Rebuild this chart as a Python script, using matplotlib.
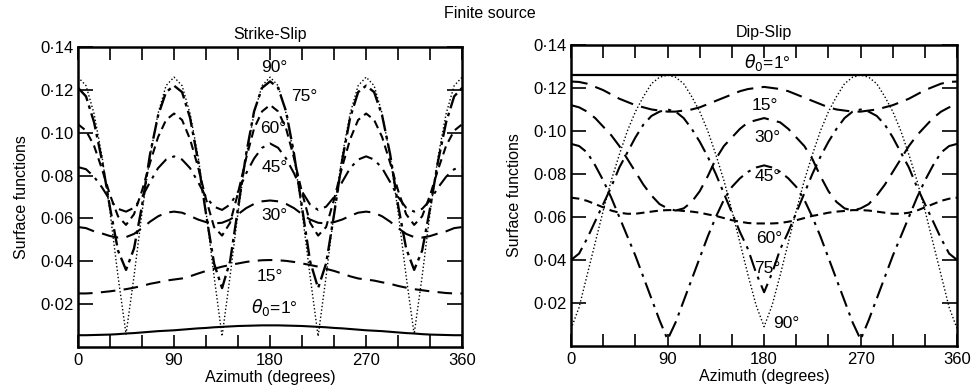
import matplotlib.pyplot as plt
import numpy as np

azimuth = np.arange(0, 360.1, 7.5)

# ---- Strike-Slip panel, one list per source depth angle theta0 ----
ss_1 = [0.0055, 0.0055, 0.0056, 0.0057, 0.0058, 0.0060, 0.0063, 0.0065, 0.0068, 0.0071, 0.0074, 0.0076, 0.0078,
        0.0081, 0.0084, 0.0087, 0.0089, 0.0092, 0.0094, 0.0096, 0.0098, 0.0099, 0.0100, 0.0101, 0.0101,
        0.0101, 0.0100, 0.0099, 0.0098, 0.0096, 0.0094, 0.0092, 0.0089, 0.0087, 0.0084, 0.0081, 0.0078,
        0.0076, 0.0074, 0.0071, 0.0068, 0.0065, 0.0063, 0.0060, 0.0058, 0.0057, 0.0056, 0.0055, 0.0055]
ss_15 = [0.0250, 0.0250, 0.0252, 0.0256, 0.0260, 0.0265, 0.0270, 0.0277, 0.0285, 0.0295, 0.0302, 0.0310, 0.0315,
         0.0320, 0.0330, 0.0343, 0.0355, 0.0365, 0.0375, 0.0383, 0.0390, 0.0397, 0.0402, 0.0405, 0.0406,
         0.0405, 0.0402, 0.0397, 0.0390, 0.0383, 0.0375, 0.0365, 0.0355, 0.0343, 0.0330, 0.0320, 0.0315,
         0.0310, 0.0302, 0.0295, 0.0285, 0.0277, 0.0270, 0.0265, 0.0260, 0.0256, 0.0252, 0.0250, 0.0250]
ss_30 = [0.0560, 0.0555, 0.0540, 0.0530, 0.0518, 0.0511, 0.0513, 0.0528, 0.0555, 0.0585, 0.0610, 0.0627, 0.0632,
         0.0627, 0.0612, 0.0595, 0.0583, 0.0577, 0.0580, 0.0595, 0.0620, 0.0648, 0.0668, 0.0680, 0.0684,
         0.0680, 0.0668, 0.0648, 0.0620, 0.0595, 0.0580, 0.0577, 0.0583, 0.0595, 0.0612, 0.0627, 0.0632,
         0.0627, 0.0610, 0.0585, 0.0555, 0.0528, 0.0513, 0.0511, 0.0518, 0.0530, 0.0540, 0.0555, 0.0560]
ss_45 = [0.0840, 0.0830, 0.0795, 0.0745, 0.0685, 0.0645, 0.0632, 0.0650, 0.0700, 0.0770, 0.0835, 0.0875, 0.0890,
         0.0875, 0.0835, 0.0770, 0.0700, 0.0655, 0.0640, 0.0665, 0.0725, 0.0810, 0.0880, 0.0930, 0.0950,
         0.0930, 0.0880, 0.0810, 0.0725, 0.0665, 0.0640, 0.0655, 0.0700, 0.0770, 0.0835, 0.0875, 0.0890,
         0.0875, 0.0835, 0.0770, 0.0700, 0.0650, 0.0632, 0.0645, 0.0685, 0.0745, 0.0795, 0.0830, 0.0840]
ss_60 = [0.104, 0.101, 0.094, 0.083, 0.071, 0.061, 0.057, 0.062, 0.073, 0.086, 0.098, 0.106, 0.109,
         0.106, 0.097, 0.084, 0.069, 0.056, 0.052, 0.058, 0.072, 0.088, 0.102, 0.110, 0.113,
         0.110, 0.102, 0.088, 0.072, 0.058, 0.052, 0.056, 0.069, 0.084, 0.097, 0.106, 0.109,
         0.106, 0.098, 0.086, 0.073, 0.062, 0.057, 0.061, 0.071, 0.083, 0.094, 0.101, 0.104]
ss_75 = [0.121, 0.117, 0.105, 0.087, 0.065, 0.045, 0.036, 0.046, 0.066, 0.090, 0.108, 0.119, 0.122,
         0.119, 0.107, 0.087, 0.062, 0.039, 0.0275, 0.040, 0.065, 0.090, 0.110, 0.121, 0.124,
         0.121, 0.110, 0.090, 0.065, 0.040, 0.0275, 0.039, 0.062, 0.087, 0.107, 0.119, 0.122,
         0.119, 0.108, 0.090, 0.066, 0.046, 0.036, 0.045, 0.065, 0.087, 0.105, 0.117, 0.121]
ss_90 = [0.126, 0.122, 0.109, 0.089, 0.063, 0.033, 0.006, 0.033, 0.063, 0.089, 0.109, 0.122, 0.126,
         0.122, 0.109, 0.089, 0.063, 0.033, 0.005, 0.033, 0.063, 0.089, 0.109, 0.122, 0.126,
         0.122, 0.109, 0.089, 0.063, 0.033, 0.005, 0.033, 0.063, 0.089, 0.109, 0.122, 0.126,
         0.122, 0.109, 0.089, 0.063, 0.033, 0.006, 0.033, 0.063, 0.089, 0.109, 0.122, 0.126]

# ---- Dip-Slip panel ----
ds_1_az = [0, 360]
ds_1 = [0.126, 0.126]
ds_15 = [0.1230, 0.1228, 0.1220, 0.1205, 0.1190, 0.1170, 0.1150, 0.1135, 0.1120, 0.1110, 0.1100, 0.1095, 0.1090,
         0.1090, 0.1095, 0.1100, 0.1110, 0.1125, 0.1140, 0.1155, 0.1170, 0.1185, 0.1195, 0.1200, 0.1205,
         0.1200, 0.1195, 0.1185, 0.1170, 0.1155, 0.1140, 0.1125, 0.1110, 0.1100, 0.1095, 0.1090, 0.1090,
         0.1095, 0.1100, 0.1110, 0.1120, 0.1135, 0.1150, 0.1170, 0.1190, 0.1205, 0.1220, 0.1228, 0.1230]
ds_30 = [0.112, 0.111, 0.109, 0.106, 0.102, 0.098, 0.093, 0.087, 0.081, 0.075, 0.070, 0.066, 0.064,
         0.063, 0.064, 0.067, 0.072, 0.079, 0.087, 0.093, 0.097, 0.101, 0.104, 0.105, 0.106,
         0.105, 0.104, 0.101, 0.097, 0.093, 0.087, 0.079, 0.072, 0.067, 0.064, 0.063, 0.064,
         0.066, 0.070, 0.075, 0.081, 0.087, 0.093, 0.098, 0.102, 0.106, 0.109, 0.111, 0.112]
ds_45 = [0.094, 0.093, 0.090, 0.084, 0.077, 0.069, 0.060, 0.051, 0.042, 0.032, 0.022, 0.012, 0.003,
         0.011, 0.021, 0.031, 0.041, 0.051, 0.060, 0.068, 0.074, 0.078, 0.081, 0.083, 0.084,
         0.083, 0.081, 0.078, 0.074, 0.068, 0.060, 0.051, 0.041, 0.031, 0.021, 0.011, 0.003,
         0.012, 0.022, 0.032, 0.042, 0.051, 0.060, 0.069, 0.077, 0.084, 0.090, 0.093, 0.094]
ds_60 = [0.0690, 0.0685, 0.0675, 0.0660, 0.0645, 0.0630, 0.0620, 0.0615, 0.0615, 0.0620, 0.0625, 0.0630, 0.0632,
         0.0632, 0.0628, 0.0625, 0.0620, 0.0612, 0.0605, 0.0595, 0.0585, 0.0578, 0.0572, 0.0570, 0.0570,
         0.0570, 0.0572, 0.0578, 0.0585, 0.0595, 0.0605, 0.0612, 0.0620, 0.0625, 0.0628, 0.0632, 0.0632,
         0.0630, 0.0625, 0.0620, 0.0615, 0.0615, 0.0620, 0.0630, 0.0645, 0.0660, 0.0675, 0.0685, 0.0690]
ds_75 = [0.040, 0.043, 0.050, 0.058, 0.066, 0.074, 0.083, 0.090, 0.097, 0.103, 0.107, 0.109, 0.110,
         0.109, 0.106, 0.101, 0.095, 0.088, 0.080, 0.071, 0.062, 0.053, 0.045, 0.034, 0.025,
         0.034, 0.045, 0.053, 0.062, 0.071, 0.080, 0.088, 0.095, 0.101, 0.106, 0.109, 0.110,
         0.109, 0.107, 0.103, 0.097, 0.090, 0.083, 0.074, 0.066, 0.058, 0.050, 0.043, 0.040]
ds_90 = [0.008, 0.018, 0.033, 0.048, 0.063, 0.077, 0.089, 0.100, 0.109, 0.116, 0.122, 0.125, 0.126,
         0.125, 0.122, 0.116, 0.109, 0.100, 0.089, 0.077, 0.063, 0.048, 0.033, 0.019, 0.009,
         0.019, 0.033, 0.048, 0.063, 0.077, 0.089, 0.100, 0.109, 0.116, 0.122, 0.125, 0.126,
         0.125, 0.122, 0.116, 0.109, 0.100, 0.089, 0.077, 0.063, 0.048, 0.033, 0.018, 0.008]

# axis ticks and labels
x_ticks = [0, 30, 60, 90, 120, 150, 180, 210, 240, 270, 300, 330, 360]
x_labels = ["0", "", "", "90", "", "", "180", "", "", "270", "", "", "360"]
y_ticks = [0.02, 0.04, 0.06, 0.08, 0.10, 0.12, 0.14]
y_labels = ["0·02", "0·04", "0·06", "0·08", "0·10", "0·12", "0·14"]

# curve annotations: (text, azimuth, value)
ss_notes = [("90°", 184, 0.1305), ("75°", 212, 0.1170), ("60°", 183, 0.1020), ("45°", 184, 0.0840),
            ("30°", 184, 0.0615), ("15°", 180, 0.0330), (r"$\theta_0$=1°", 184, 0.0185)]
ds_notes = [(r"$\theta_0$=1°", 183, 0.1320), ("15°", 181, 0.1120), ("30°", 183, 0.0970), ("45°", 183, 0.0786),
            ("60°", 185, 0.0500), ("75°", 183, 0.0360), ("90°", 201, 0.0105)]

plt.rcParams['font.family'] = ['Liberation Sans', 'DejaVu Sans']
plt.rcParams['mathtext.fontset'] = 'dejavusans'

fig = plt.figure(figsize=(9.8, 3.92), dpi=100)
ax1 = fig.add_axes([0.0796, 0.1148, 0.392, 0.765])
ax2 = fig.add_axes([0.5827, 0.1173, 0.394, 0.768])

ss_series = [
    (ss_1, dict(ls='-', lw=1.5)),
    (ss_15, dict(ls=(0, (7, 4)), lw=1.5)),
    (ss_30, dict(ls=(0, (8, 4)), lw=1.5)),
    (ss_45, dict(ls=(0, (7, 3, 1.5, 3)), lw=1.5)),
    (ss_60, dict(ls=(0, (4, 2.5)), lw=1.5)),
    (ss_75, dict(ls=(0, (7, 2, 1.5, 2)), lw=1.7)),
    (ss_90, dict(ls=(0, (1, 1.6)), lw=1.0)),
]
for vals, st in ss_series:
    ax1.plot(azimuth, vals, color='black', **st)

ax2.plot(ds_1_az, ds_1, color='black', ls='-', lw=1.6)
ds_series = [
    (ds_15, dict(ls=(0, (8, 4)), lw=1.5)),
    (ds_30, dict(ls=(0, (8, 4)), lw=1.5)),
    (ds_45, dict(ls=(0, (8, 3, 1.5, 3)), lw=1.5)),
    (ds_60, dict(ls=(0, (4, 2.5)), lw=1.5)),
    (ds_75, dict(ls=(0, (8, 3, 1.5, 3)), lw=1.5)),
    (ds_90, dict(ls=(0, (1, 1.6)), lw=1.0)),
]
for vals, st in ds_series:
    ax2.plot(azimuth, vals, color='black', **st)

for ax, notes, title in [(ax1, ss_notes, "Strike-Slip"), (ax2, ds_notes, "Dip-Slip")]:
    ax.set_xlim(0, 360)
    ax.set_ylim(0, 0.14)
    ax.set_xticks(x_ticks)
    ax.set_xticklabels(x_labels, fontsize=12)
    ax.set_yticks(y_ticks)
    ax.set_yticklabels(y_labels, fontsize=12)
    ax.tick_params(axis='x', direction='in', length=9, width=1.2, top=True, pad=4)
    ax.tick_params(axis='y', direction='in', length=11, width=1.2, right=True, pad=3)
    for sp in ax.spines.values():
        sp.set_linewidth(1.8)
    ax.set_xlabel("Azimuth (degrees)", fontsize=11.5, labelpad=2)
    ax.set_ylabel("Surface functions", fontsize=11.5, labelpad=8)
    ax.set_title(title, fontsize=11.5, pad=6)
    for txt, x, y in notes:
        ax.text(x, y, txt, ha='center', va='center', fontsize=12.5)

fig.text(0.5, 0.965, "Finite source", ha='center', va='center', fontsize=11.5)

fig.savefig("out.png", dpi=100)
